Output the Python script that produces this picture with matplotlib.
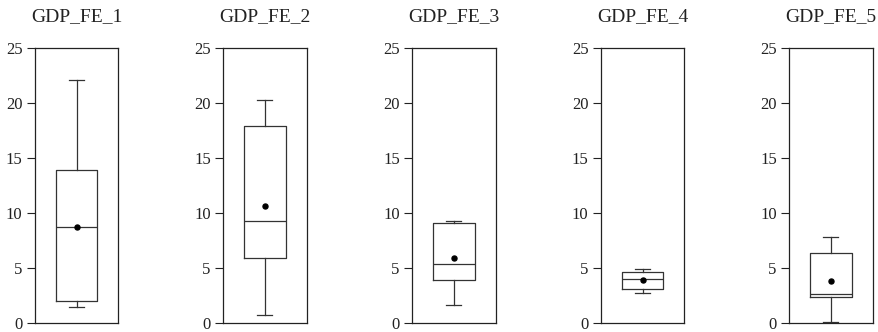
import matplotlib
matplotlib.use("Agg")
import matplotlib.pyplot as plt

titles = ["GDP_FE_1", "GDP_FE_2", "GDP_FE_3", "GDP_FE_4", "GDP_FE_5"]
whislo = [1.5, 0.73, 1.63, 2.75, 0.15]
q1 = [2.03, 5.9, 3.9, 3.08, 2.39]
med = [8.77, 9.28, 5.35, 3.99, 2.63]
q3 = [13.94, 17.9, 9.07, 4.69, 6.38]
whishi = [22.07, 20.3, 9.31, 4.93, 7.86]
means = [8.77, 10.6, 5.96, 3.9, 3.87]
yticks = [0, 5, 10, 15, 20, 25]

plt.rcParams['font.family'] = ['Liberation Serif', 'DejaVu Serif']

fig = plt.figure(figsize=(8.79, 3.32), dpi=100)
W, H = 879, 332
lefts = [35, 223.3, 412.3, 601, 789.3]
aw = 83.3
top, bottom = 47.7, 323.3

for i in range(5):
    ax = fig.add_axes([lefts[i] / W, 1 - bottom / H, aw / W, (bottom - top) / H])
    stats = [dict(whislo=whislo[i], q1=q1[i], med=med[i], q3=q3[i],
                  whishi=whishi[i], mean=means[i], fliers=[])]
    ax.bxp(stats, positions=[0], widths=0.5, showmeans=True, showfliers=False,
           boxprops=dict(color='#333333', linewidth=0.9),
           medianprops=dict(color='#333333', linewidth=0.9),
           whiskerprops=dict(color='#333333', linewidth=0.9),
           capprops=dict(color='#333333', linewidth=0.9),
           meanprops=dict(marker='o', markerfacecolor='black', markeredgecolor='black',
                          markersize=3.6),
           capwidths=0.18)
    ax.set_xlim(-0.5, 0.5)
    ax.set_ylim(0, 25)
    ax.set_yticks(yticks)
    ax.set_xticks([])
    ax.tick_params(axis='y', direction='out', length=6, width=0.8, labelsize=12,
                   colors='#222222', pad=3)
    for s in ax.spines.values():
        s.set_linewidth(0.9)
        s.set_color('#222222')
    ax.set_title(titles[i], fontsize=14, pad=19, color='#222222')

fig.savefig("out.png", dpi=100)
